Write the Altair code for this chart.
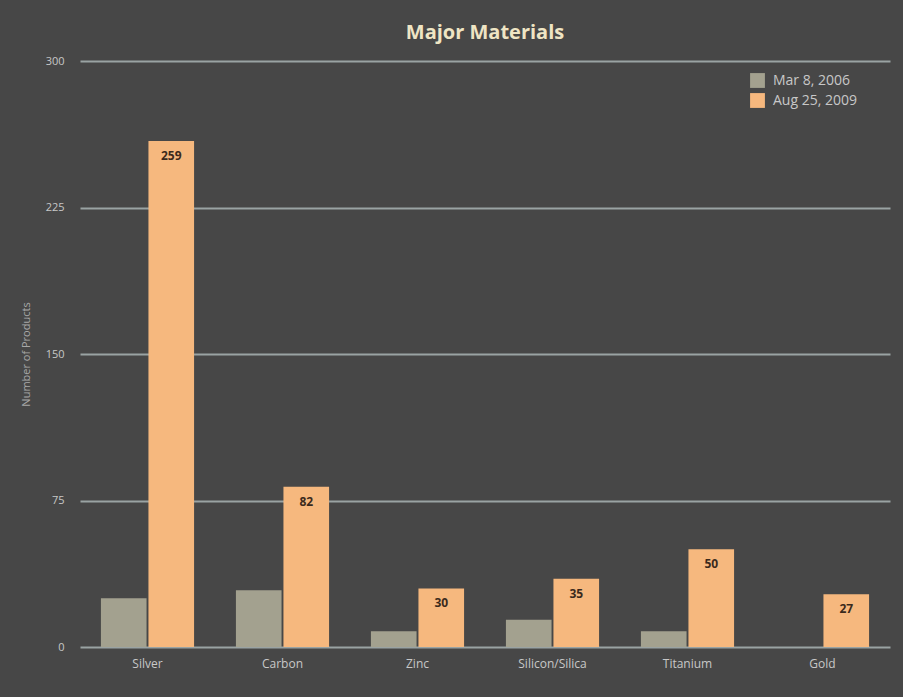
import altair as alt
import pandas as pd

materials = ["Silver", "Carbon", "Zinc", "Silicon/Silica", "Titanium", "Gold"]
series_names = ["Mar 8, 2006", "Aug 25, 2009"]
values_2006 = [25, 29, 8, 14, 8, 0]
values_2009 = [259, 82, 30, 35, 50, 27]
y_ticks = [0, 75, 150, 225, 300]

rows = []
for m, a, b in zip(materials, values_2006, values_2009):
    rows.append({"material": m, "series": series_names[0], "value": a})
    rows.append({"material": m, "series": series_names[1], "value": b})
df = pd.DataFrame(rows)

FONT = "Open Sans"
BG = "#474747"

x_enc = alt.X("material:N", sort=materials, title=None,
              scale=alt.Scale(paddingInner=0.31, paddingOuter=0.155),
              axis=alt.Axis(labelAngle=0, labelColor="#c8c8c8", labelFontSize=12,
                            labelFont=FONT, labelPadding=11, ticks=False, domain=False))
y_enc = alt.Y("value:Q", title="Number of Products",
              scale=alt.Scale(domain=[0, 300], nice=False),
              axis=alt.Axis(values=y_ticks, labelColor="#c8c8c8", labelFontSize=11,
                            labelFont=FONT, labelPadding=16, ticks=False, domain=False,
                            grid=True, gridColor="#9aa3a3", gridWidth=2,
                            titleColor="#a8a8a8", titleFontSize=11, titleFont=FONT,
                            titleFontWeight="normal", titlePadding=14))

color_enc = alt.Color("series:N", sort=series_names,
                      scale=alt.Scale(domain=series_names, range=["#a3a18f", "#f6b87e"]),
                      legend=alt.Legend(title=None, orient="none", legendX=670, legendY=12,
                                        symbolType="square", symbolSize=220,
                                        symbolStrokeWidth=0, symbolOpacity=1,
                                        labelColor="#c8c8c8", labelFontSize=14,
                                        labelFont=FONT, rowPadding=5, labelOffset=8))

bars = alt.Chart(df).mark_bar(opacity=1).encode(
    x=x_enc,
    xOffset=alt.XOffset("series:N", sort=series_names,
                        scale=alt.Scale(paddingInner=0.04)),
    y=y_enc,
    color=color_enc,
)

labels = alt.Chart(df[df["series"] == series_names[1]]).mark_text(
    dy=15, baseline="middle", fontWeight="bold", fontSize=12, font=FONT, color="#3b2a1c"
).encode(
    x=alt.X("material:N", sort=materials),
    xOffset=alt.XOffset("series:N", sort=series_names,
                        scale=alt.Scale(domain=series_names, paddingInner=0.04)),
    y="value:Q",
    text="value:Q",
)

chart = alt.layer(bars, labels).properties(
    width=810, height=586,
    background=BG,
    padding={"left": 20, "top": 23, "right": 13, "bottom": 31},
    title=alt.TitleParams("Major Materials", color="#efe5c4", fontSize=20,
                          font=FONT, fontWeight="bold", anchor="middle", offset=12),
).configure_view(stroke=None)

chart.save("out.html", embed_options={"renderer": "svg", "actions": False})
